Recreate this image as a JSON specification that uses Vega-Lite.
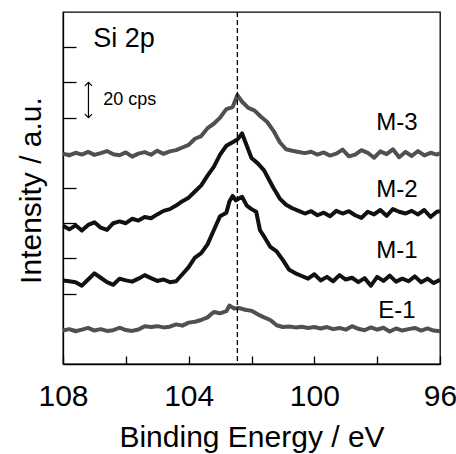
{
"$schema":"https://vega.github.io/schema/vega-lite/v6.json",
"width":377,"height":352,
"autosize":{"type":"none"},
"padding":{"left":63,"top":12,"right":16,"bottom":90},
"config":{"view":{"stroke":"#000","strokeWidth":1.3},"font":"Liberation Sans","text":{"font":"Liberation Sans","color":"#000"}},
"datasets":{
"spectra":[
{"sample":"M-3","energy":108.0,"intensity":119.5},{"sample":"M-3","energy":107.8,"intensity":118.5},{"sample":"M-3","energy":107.6,"intensity":120.0},{"sample":"M-3","energy":107.4,"intensity":119.0},{"sample":"M-3","energy":107.2,"intensity":120.5},{"sample":"M-3","energy":107.0,"intensity":118.8},{"sample":"M-3","energy":106.8,"intensity":119.8},{"sample":"M-3","energy":106.6,"intensity":121.0},{"sample":"M-3","energy":106.4,"intensity":119.2},{"sample":"M-3","energy":106.2,"intensity":118.6},{"sample":"M-3","energy":106.0,"intensity":120.2},{"sample":"M-3","energy":105.8,"intensity":117.8},{"sample":"M-3","energy":105.6,"intensity":119.5},{"sample":"M-3","energy":105.4,"intensity":120.4},{"sample":"M-3","energy":105.2,"intensity":118.9},{"sample":"M-3","energy":105.0,"intensity":121.2},{"sample":"M-3","energy":104.8,"intensity":119.4},{"sample":"M-3","energy":104.6,"intensity":120.8},{"sample":"M-3","energy":104.4,"intensity":121.5},{"sample":"M-3","energy":104.2,"intensity":123.0},{"sample":"M-3","energy":104.0,"intensity":124.5},{"sample":"M-3","energy":103.8,"intensity":128.0},{"sample":"M-3","energy":103.6,"intensity":129.5},{"sample":"M-3","energy":103.4,"intensity":134.0},{"sample":"M-3","energy":103.2,"intensity":136.5},{"sample":"M-3","energy":103.0,"intensity":140.0},{"sample":"M-3","energy":102.8,"intensity":144.8},{"sample":"M-3","energy":102.6,"intensity":146.0},{"sample":"M-3","energy":102.45,"intensity":152.8},{"sample":"M-3","energy":102.3,"intensity":149.0},{"sample":"M-3","energy":102.1,"intensity":145.5},{"sample":"M-3","energy":101.9,"intensity":144.0},{"sample":"M-3","energy":101.7,"intensity":140.5},{"sample":"M-3","energy":101.5,"intensity":137.5},{"sample":"M-3","energy":101.3,"intensity":132.5},{"sample":"M-3","energy":101.1,"intensity":126.0},{"sample":"M-3","energy":100.9,"intensity":122.0},{"sample":"M-3","energy":100.7,"intensity":121.2},{"sample":"M-3","energy":100.5,"intensity":120.5},{"sample":"M-3","energy":100.3,"intensity":119.8},{"sample":"M-3","energy":100.1,"intensity":120.6},{"sample":"M-3","energy":99.9,"intensity":119.0},{"sample":"M-3","energy":99.7,"intensity":120.2},{"sample":"M-3","energy":99.5,"intensity":118.4},{"sample":"M-3","energy":99.3,"intensity":119.5},{"sample":"M-3","energy":99.1,"intensity":121.8},{"sample":"M-3","energy":98.9,"intensity":118.0},{"sample":"M-3","energy":98.7,"intensity":119.0},{"sample":"M-3","energy":98.5,"intensity":121.5},{"sample":"M-3","energy":98.3,"intensity":120.0},{"sample":"M-3","energy":98.1,"intensity":117.2},{"sample":"M-3","energy":97.9,"intensity":120.8},{"sample":"M-3","energy":97.7,"intensity":119.3},{"sample":"M-3","energy":97.5,"intensity":122.0},{"sample":"M-3","energy":97.3,"intensity":117.5},{"sample":"M-3","energy":97.1,"intensity":120.5},{"sample":"M-3","energy":96.9,"intensity":118.2},{"sample":"M-3","energy":96.7,"intensity":121.0},{"sample":"M-3","energy":96.5,"intensity":118.5},{"sample":"M-3","energy":96.3,"intensity":120.0},{"sample":"M-3","energy":96.1,"intensity":119.0},{"sample":"M-3","energy":96.0,"intensity":119.8},
{"sample":"M-2","energy":108.0,"intensity":78.5},{"sample":"M-2","energy":107.8,"intensity":76.5},{"sample":"M-2","energy":107.6,"intensity":78.8},{"sample":"M-2","energy":107.4,"intensity":75.8},{"sample":"M-2","energy":107.2,"intensity":79.0},{"sample":"M-2","energy":107.0,"intensity":80.5},{"sample":"M-2","energy":106.8,"intensity":77.5},{"sample":"M-2","energy":106.6,"intensity":76.2},{"sample":"M-2","energy":106.4,"intensity":80.0},{"sample":"M-2","energy":106.2,"intensity":81.0},{"sample":"M-2","energy":106.0,"intensity":80.0},{"sample":"M-2","energy":105.8,"intensity":82.5},{"sample":"M-2","energy":105.6,"intensity":81.5},{"sample":"M-2","energy":105.4,"intensity":83.5},{"sample":"M-2","energy":105.2,"intensity":82.8},{"sample":"M-2","energy":105.0,"intensity":85.0},{"sample":"M-2","energy":104.8,"intensity":87.0},{"sample":"M-2","energy":104.6,"intensity":88.0},{"sample":"M-2","energy":104.4,"intensity":90.0},{"sample":"M-2","energy":104.2,"intensity":92.5},{"sample":"M-2","energy":104.0,"intensity":94.5},{"sample":"M-2","energy":103.8,"intensity":98.0},{"sample":"M-2","energy":103.6,"intensity":101.5},{"sample":"M-2","energy":103.4,"intensity":107.0},{"sample":"M-2","energy":103.2,"intensity":112.0},{"sample":"M-2","energy":103.0,"intensity":119.0},{"sample":"M-2","energy":102.8,"intensity":124.0},{"sample":"M-2","energy":102.6,"intensity":126.0},{"sample":"M-2","energy":102.45,"intensity":127.5},{"sample":"M-2","energy":102.3,"intensity":131.0},{"sample":"M-2","energy":102.15,"intensity":124.0},{"sample":"M-2","energy":102.0,"intensity":117.0},{"sample":"M-2","energy":101.8,"intensity":114.0},{"sample":"M-2","energy":101.6,"intensity":110.0},{"sample":"M-2","energy":101.45,"intensity":105.0},{"sample":"M-2","energy":101.3,"intensity":100.0},{"sample":"M-2","energy":101.1,"intensity":94.0},{"sample":"M-2","energy":100.9,"intensity":90.5},{"sample":"M-2","energy":100.7,"intensity":88.5},{"sample":"M-2","energy":100.5,"intensity":87.0},{"sample":"M-2","energy":100.3,"intensity":85.5},{"sample":"M-2","energy":100.1,"intensity":86.8},{"sample":"M-2","energy":99.9,"intensity":84.5},{"sample":"M-2","energy":99.7,"intensity":86.0},{"sample":"M-2","energy":99.5,"intensity":84.0},{"sample":"M-2","energy":99.3,"intensity":87.0},{"sample":"M-2","energy":99.1,"intensity":85.5},{"sample":"M-2","energy":98.9,"intensity":86.8},{"sample":"M-2","energy":98.7,"intensity":84.5},{"sample":"M-2","energy":98.5,"intensity":83.0},{"sample":"M-2","energy":98.3,"intensity":86.5},{"sample":"M-2","energy":98.1,"intensity":85.0},{"sample":"M-2","energy":97.9,"intensity":87.5},{"sample":"M-2","energy":97.7,"intensity":84.2},{"sample":"M-2","energy":97.5,"intensity":88.0},{"sample":"M-2","energy":97.3,"intensity":86.5},{"sample":"M-2","energy":97.1,"intensity":85.5},{"sample":"M-2","energy":96.9,"intensity":87.0},{"sample":"M-2","energy":96.7,"intensity":85.0},{"sample":"M-2","energy":96.5,"intensity":87.5},{"sample":"M-2","energy":96.3,"intensity":83.5},{"sample":"M-2","energy":96.1,"intensity":86.5},{"sample":"M-2","energy":96.0,"intensity":86.8},
{"sample":"M-1","energy":108.0,"intensity":47.5},{"sample":"M-1","energy":107.8,"intensity":47.0},{"sample":"M-1","energy":107.6,"intensity":46.5},{"sample":"M-1","energy":107.4,"intensity":44.5},{"sample":"M-1","energy":107.2,"intensity":48.0},{"sample":"M-1","energy":107.0,"intensity":51.5},{"sample":"M-1","energy":106.8,"intensity":49.0},{"sample":"M-1","energy":106.6,"intensity":46.5},{"sample":"M-1","energy":106.4,"intensity":45.0},{"sample":"M-1","energy":106.2,"intensity":48.5},{"sample":"M-1","energy":106.0,"intensity":47.5},{"sample":"M-1","energy":105.8,"intensity":46.8},{"sample":"M-1","energy":105.6,"intensity":48.5},{"sample":"M-1","energy":105.4,"intensity":50.5},{"sample":"M-1","energy":105.2,"intensity":48.8},{"sample":"M-1","energy":105.0,"intensity":47.2},{"sample":"M-1","energy":104.8,"intensity":48.0},{"sample":"M-1","energy":104.6,"intensity":46.5},{"sample":"M-1","energy":104.4,"intensity":47.0},{"sample":"M-1","energy":104.2,"intensity":51.0},{"sample":"M-1","energy":104.0,"intensity":55.0},{"sample":"M-1","energy":103.8,"intensity":60.5},{"sample":"M-1","energy":103.6,"intensity":63.0},{"sample":"M-1","energy":103.4,"intensity":68.0},{"sample":"M-1","energy":103.2,"intensity":76.0},{"sample":"M-1","energy":103.0,"intensity":84.0},{"sample":"M-1","energy":102.8,"intensity":86.0},{"sample":"M-1","energy":102.7,"intensity":92.5},{"sample":"M-1","energy":102.6,"intensity":95.5},{"sample":"M-1","energy":102.5,"intensity":93.0},{"sample":"M-1","energy":102.4,"intensity":94.0},{"sample":"M-1","energy":102.3,"intensity":95.0},{"sample":"M-1","energy":102.15,"intensity":90.0},{"sample":"M-1","energy":102.0,"intensity":88.0},{"sample":"M-1","energy":101.85,"intensity":86.5},{"sample":"M-1","energy":101.73,"intensity":76.0},{"sample":"M-1","energy":101.6,"intensity":72.5},{"sample":"M-1","energy":101.4,"intensity":66.5},{"sample":"M-1","energy":101.2,"intensity":64.0},{"sample":"M-1","energy":101.0,"intensity":59.0},{"sample":"M-1","energy":100.8,"intensity":53.5},{"sample":"M-1","energy":100.6,"intensity":51.5},{"sample":"M-1","energy":100.4,"intensity":50.0},{"sample":"M-1","energy":100.2,"intensity":48.5},{"sample":"M-1","energy":100.0,"intensity":51.0},{"sample":"M-1","energy":99.8,"intensity":47.5},{"sample":"M-1","energy":99.6,"intensity":49.5},{"sample":"M-1","energy":99.4,"intensity":47.0},{"sample":"M-1","energy":99.2,"intensity":50.5},{"sample":"M-1","energy":99.0,"intensity":48.0},{"sample":"M-1","energy":98.8,"intensity":49.0},{"sample":"M-1","energy":98.6,"intensity":46.5},{"sample":"M-1","energy":98.4,"intensity":48.8},{"sample":"M-1","energy":98.2,"intensity":44.5},{"sample":"M-1","energy":98.0,"intensity":49.5},{"sample":"M-1","energy":97.8,"intensity":47.2},{"sample":"M-1","energy":97.6,"intensity":50.2},{"sample":"M-1","energy":97.4,"intensity":46.8},{"sample":"M-1","energy":97.2,"intensity":48.5},{"sample":"M-1","energy":97.0,"intensity":47.0},{"sample":"M-1","energy":96.8,"intensity":49.8},{"sample":"M-1","energy":96.6,"intensity":46.5},{"sample":"M-1","energy":96.4,"intensity":48.5},{"sample":"M-1","energy":96.2,"intensity":46.0},{"sample":"M-1","energy":96.0,"intensity":47.8},
{"sample":"E-1","energy":108.0,"intensity":19.0},{"sample":"E-1","energy":107.8,"intensity":19.8},{"sample":"E-1","energy":107.6,"intensity":18.6},{"sample":"E-1","energy":107.4,"intensity":19.5},{"sample":"E-1","energy":107.2,"intensity":20.5},{"sample":"E-1","energy":107.0,"intensity":19.0},{"sample":"E-1","energy":106.8,"intensity":19.8},{"sample":"E-1","energy":106.6,"intensity":18.8},{"sample":"E-1","energy":106.4,"intensity":19.2},{"sample":"E-1","energy":106.2,"intensity":20.6},{"sample":"E-1","energy":106.0,"intensity":19.3},{"sample":"E-1","energy":105.8,"intensity":18.8},{"sample":"E-1","energy":105.6,"intensity":19.6},{"sample":"E-1","energy":105.4,"intensity":21.5},{"sample":"E-1","energy":105.2,"intensity":21.0},{"sample":"E-1","energy":105.0,"intensity":21.5},{"sample":"E-1","energy":104.8,"intensity":20.8},{"sample":"E-1","energy":104.6,"intensity":21.2},{"sample":"E-1","energy":104.4,"intensity":22.5},{"sample":"E-1","energy":104.2,"intensity":21.8},{"sample":"E-1","energy":104.0,"intensity":23.5},{"sample":"E-1","energy":103.8,"intensity":24.0},{"sample":"E-1","energy":103.6,"intensity":25.0},{"sample":"E-1","energy":103.4,"intensity":26.5},{"sample":"E-1","energy":103.2,"intensity":29.5},{"sample":"E-1","energy":103.0,"intensity":28.8},{"sample":"E-1","energy":102.8,"intensity":30.0},{"sample":"E-1","energy":102.7,"intensity":33.2},{"sample":"E-1","energy":102.55,"intensity":31.5},{"sample":"E-1","energy":102.4,"intensity":31.8},{"sample":"E-1","energy":102.2,"intensity":30.8},{"sample":"E-1","energy":102.0,"intensity":30.2},{"sample":"E-1","energy":101.8,"intensity":28.2},{"sample":"E-1","energy":101.6,"intensity":26.5},{"sample":"E-1","energy":101.4,"intensity":25.0},{"sample":"E-1","energy":101.2,"intensity":22.0},{"sample":"E-1","energy":101.0,"intensity":21.0},{"sample":"E-1","energy":100.8,"intensity":21.3},{"sample":"E-1","energy":100.6,"intensity":20.8},{"sample":"E-1","energy":100.4,"intensity":21.2},{"sample":"E-1","energy":100.2,"intensity":20.5},{"sample":"E-1","energy":100.0,"intensity":21.0},{"sample":"E-1","energy":99.8,"intensity":20.2},{"sample":"E-1","energy":99.6,"intensity":21.0},{"sample":"E-1","energy":99.4,"intensity":19.8},{"sample":"E-1","energy":99.2,"intensity":20.5},{"sample":"E-1","energy":99.0,"intensity":19.5},{"sample":"E-1","energy":98.8,"intensity":21.5},{"sample":"E-1","energy":98.6,"intensity":20.0},{"sample":"E-1","energy":98.4,"intensity":19.2},{"sample":"E-1","energy":98.2,"intensity":20.8},{"sample":"E-1","energy":98.0,"intensity":19.5},{"sample":"E-1","energy":97.8,"intensity":20.6},{"sample":"E-1","energy":97.6,"intensity":18.5},{"sample":"E-1","energy":97.4,"intensity":20.2},{"sample":"E-1","energy":97.2,"intensity":19.0},{"sample":"E-1","energy":97.0,"intensity":19.8},{"sample":"E-1","energy":96.8,"intensity":20.5},{"sample":"E-1","energy":96.6,"intensity":19.0},{"sample":"E-1","energy":96.4,"intensity":20.2},{"sample":"E-1","energy":96.2,"intensity":19.0},{"sample":"E-1","energy":96.0,"intensity":18.6}
],
"labels":[
{"label":"M-3","energy":97.37,"intensity":132.8},
{"label":"M-2","energy":97.37,"intensity":95.1},
{"label":"M-1","energy":97.37,"intensity":60.5},
{"label":"E-1","energy":97.37,"intensity":26.0}
]
},
"layer":[
{"data":{"name":"spectra"},
 "mark":{"type":"line","strokeWidth":4,"strokeJoin":"round"},
 "encoding":{
  "x":{"field":"energy","type":"quantitative",
   "scale":{"domain":[96,108],"reverse":true,"nice":false,"zero":false},
   "axis":{"values":[96,98,100,102,104,106,108],"labelExpr":"datum.value % 4 === 0 ? datum.label : ''","grid":false,
    "tickSize":-8,"tickColor":"#000","tickWidth":1.3,"domainColor":"#000","domainWidth":1.3,
    "labelFontSize":30,"labelColor":"#000","labelPadding":25,"labelOverlap":false,"labelBound":false,"labelFlush":false,"labelFont":"Liberation Sans",
    "title":"Binding Energy / eV","titleFontSize":30,"titleFontWeight":"normal","titleColor":"#000","titleFont":"Liberation Sans","titleBaseline":"alphabetic","titleY":82}},
  "y":{"field":"intensity","type":"quantitative",
   "scale":{"domain":[0,200],"nice":false,"zero":false},
   "axis":{"values":[20,40,60,80,100,120,140,160,180],"labels":false,"grid":false,
    "tickSize":-13,"tickColor":"#000","tickWidth":1.3,"domainColor":"#000","domainWidth":1.3,
    "title":"Intensity / a.u.","titleFontSize":30,"titleFontWeight":"normal","titleColor":"#000","titleFont":"Liberation Sans","titleBaseline":"alphabetic","titleX":-23,"titleY":178}},
  "color":{"field":"sample","type":"nominal","scale":{"domain":["M-3","M-2","M-1","E-1"],"range":["#505050","#111111","#111111","#505050"]},"legend":null},
  "detail":{"field":"sample"}
 }},
{"data":{"values":[{"energy":102.45}]},
 "mark":{"type":"rule","strokeDash":[5,3],"strokeWidth":1.3,"color":"#000"},
 "encoding":{"x":{"field":"energy","type":"quantitative"}}},
{"data":{"name":"labels"},
 "mark":{"type":"text","fontSize":24,"align":"center","baseline":"alphabetic","font":"Liberation Sans","color":"#000"},
 "encoding":{"x":{"field":"energy","type":"quantitative"},"y":{"field":"intensity","type":"quantitative"},"text":{"field":"label"}}},
{"data":{"values":[{"label":"Si 2p","energy":107.04,"intensity":180.3}]},
 "mark":{"type":"text","fontSize":27,"align":"left","baseline":"alphabetic","font":"Liberation Sans","color":"#000"},
 "encoding":{"x":{"field":"energy","type":"quantitative"},"y":{"field":"intensity","type":"quantitative"},"text":{"field":"label"}}},
{"data":{"values":[{"label":"20 cps","energy":106.72,"intensity":150}]},
 "mark":{"type":"text","fontSize":18,"align":"left","baseline":"middle","font":"Liberation Sans","color":"#000"},
 "encoding":{"x":{"field":"energy","type":"quantitative"},"y":{"field":"intensity","type":"quantitative"},"text":{"field":"label"}}},
{"data":{"values":[{"energy":107.19,"low":140,"high":160}]},
 "mark":{"type":"rule","strokeWidth":1.2,"color":"#000"},
 "encoding":{"x":{"field":"energy","type":"quantitative"},"y":{"field":"low","type":"quantitative"},"y2":{"field":"high"}}},
{"data":{"values":[{"energy":107.19,"intensity":160}]},
 "mark":{"type":"point","shape":"M-1,1L0,0L1,1","size":49,"filled":false,"stroke":"#000","strokeWidth":1.2,"opacity":1},
 "encoding":{"x":{"field":"energy","type":"quantitative"},"y":{"field":"intensity","type":"quantitative"}}},
{"data":{"values":[{"energy":107.19,"intensity":140}]},
 "mark":{"type":"point","shape":"M-1,-1L0,0L1,-1","size":49,"filled":false,"stroke":"#000","strokeWidth":1.2,"opacity":1},
 "encoding":{"x":{"field":"energy","type":"quantitative"},"y":{"field":"intensity","type":"quantitative"}}}
]
}
